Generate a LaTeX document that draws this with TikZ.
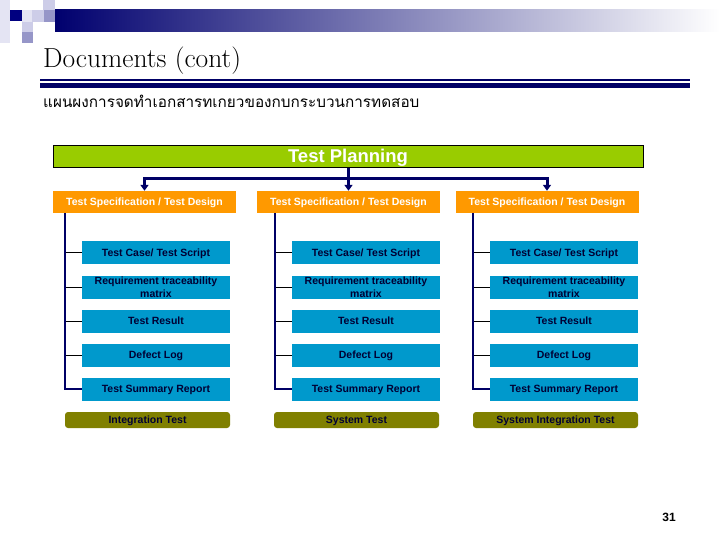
\documentclass[tikz,border=0pt]{standalone}
\usepackage{fontspec}
\newfontfamily\tahoma{Liberation Sans}
\newfontfamily\thaifont[Script=Thai]{Loma}
\usetikzlibrary{arrows.meta}
\definecolor{bannernavy}{RGB}{0,0,110}
\definecolor{bannermid}{RGB}{150,150,185}
\definecolor{sqdark}{RGB}{0,0,128}
\definecolor{sqmid}{RGB}{150,150,200}
\definecolor{sqlight}{RGB}{205,205,232}
\definecolor{sqpale}{RGB}{228,228,243}
\definecolor{rulenavy}{RGB}{0,0,102}
\definecolor{plangreen}{RGB}{153,204,0}
\definecolor{specorange}{RGB}{255,153,0}
\definecolor{docblue}{RGB}{0,153,204}
\definecolor{levelolive}{RGB}{128,128,0}
\definecolor{doctext}{RGB}{0,0,51}
\definecolor{linenavy}{RGB}{0,0,102}
\begin{document}
\begin{tikzpicture}[x=1pt,y=-1pt,
  plan/.style={draw=black, line width=0.8pt, fill=plangreen, text=white, minimum width=590pt, minimum height=22pt, inner sep=0pt, text height=13pt, text depth=0pt, font=\tahoma\bfseries\fontsize{18.5}{20}\selectfont},
  spec/.style={fill=specorange, text=white, minimum width=183pt, minimum height=22pt, inner sep=0pt, text height=7.5pt, text depth=0pt, font=\tahoma\bfseries\fontsize{10.5}{12}\selectfont},
  doc/.style={fill=docblue, text=doctext, minimum width=148pt, minimum height=23pt, inner sep=0pt, text height=7.5pt, text depth=0pt, align=center, font=\tahoma\bfseries\fontsize{10.5}{12.5}\selectfont},
  twoline/.style={text height={}, text depth={}},
  level/.style={fill=levelolive, text=doctext, rounded corners=3pt, minimum width=165pt, minimum height=16pt, inner sep=0pt, text height=7.5pt, text depth=0pt, font=\tahoma\bfseries\fontsize{10.5}{12}\selectfont},
  trunk/.style={draw=linenavy, line width=3pt, -{Triangle[width=8pt,length=6pt]}},
  rail/.style={draw=linenavy, line width=2.5pt},
  branch/.style={draw=black, line width=0.8pt}]
\useasboundingbox (0,0) rectangle (720,540);
% corner squares and banner
\fill[sqpale] (0,0) rectangle (10,43);
\fill[sqlight] (43,0) rectangle (55,10);
\fill[sqdark] (10,10) rectangle (22,21);
\fill[sqpale] (22,10) rectangle (32,22);
\fill[sqlight] (32,10) rectangle (44,22);
\fill[sqmid] (44,10) rectangle (55,22);
\fill[sqlight] (22,22) rectangle (33,32);
\fill[sqmid] (22,32) rectangle (33,43);
\shade[left color=bannernavy, middle color=bannermid, right color=white] (55,10) rectangle (720,32);
% title
\node [anchor=base west, inner sep=0pt, font=\fontsize{27.5}{30}\selectfont] (title) at (43,68) {Documents (cont)};
\fill[rulenavy] (40,79) rectangle (690,81);
\fill[rulenavy] (40,83) rectangle (690,88);
\node [anchor=base west, inner sep=0pt, font=\thaifont\fontsize{15.3}{18}\selectfont] (subtitle) at (43,108) {แผนผงการจดทำเอกสารทเกยวของกบกระบวนการทดสอบ};
% test planning
\node [plan] (plan) at (348,156.5) {Test Planning};
\node [spec] (spec1) at (144.5,202) {Test Specification / Test Design};
\node [spec] (spec2) at (348.5,202) {Test Specification / Test Design};
\node [spec] (spec3) at (547,202) {Test Specification / Test Design};
\coordinate (hub) at (348.5,179);
\draw [trunk] (plan.south -| hub) -- (spec2.north);
\draw [trunk] (hub) -| (spec1.north);
\draw [trunk] (hub) -| (spec3.north);
% column 1
\node [doc] (case1) at (156,252.5) {Test Case/ Test Script};
\node [doc, twoline] (trace1) at (156,287) {Requirement traceability\\matrix};
\node [doc] (result1) at (156,321) {Test Result};
\node [doc] (defect1) at (156,355) {Defect Log};
\node [doc] (summary1) at (156,389) {Test Summary Report};
\node [level] (level1) at (147.5,420) {Integration Test};
% column 2
\node [doc] (case2) at (366,252.5) {Test Case/ Test Script};
\node [doc, twoline] (trace2) at (366,287) {Requirement traceability\\matrix};
\node [doc] (result2) at (366,321) {Test Result};
\node [doc] (defect2) at (366,355) {Defect Log};
\node [doc] (summary2) at (366,389) {Test Summary Report};
\node [level] (level2) at (356.5,420) {System Test};
% column 3
\node [doc] (case3) at (564,252.5) {Test Case/ Test Script};
\node [doc, twoline] (trace3) at (564,287) {Requirement traceability\\matrix};
\node [doc] (result3) at (564,321) {Test Result};
\node [doc] (defect3) at (564,355) {Defect Log};
\node [doc] (summary3) at (564,389) {Test Summary Report};
\node [level] (level3) at (555.5,420) {System Integration Test};
% rails
\coordinate (rail1) at (65,213);
\coordinate (rail2) at (275,213);
\coordinate (rail3) at (473,213);
\draw [branch] (rail1 |- case1.west) -- (case1.west);
\draw [branch] (rail1 |- trace1.west) -- (trace1.west);
\draw [branch] (rail1 |- result1.west) -- (result1.west);
\draw [branch] (rail1 |- defect1.west) -- (defect1.west);
\draw [rail] (rail1) |- (summary1.west);
\draw [branch] (rail2 |- case2.west) -- (case2.west);
\draw [branch] (rail2 |- trace2.west) -- (trace2.west);
\draw [branch] (rail2 |- result2.west) -- (result2.west);
\draw [branch] (rail2 |- defect2.west) -- (defect2.west);
\draw [rail] (rail2) |- (summary2.west);
\draw [branch] (rail3 |- case3.west) -- (case3.west);
\draw [branch] (rail3 |- trace3.west) -- (trace3.west);
\draw [branch] (rail3 |- result3.west) -- (result3.west);
\draw [branch] (rail3 |- defect3.west) -- (defect3.west);
\draw [rail] (rail3) |- (summary3.west);
% page number
\node [anchor=base, inner sep=0pt, font=\tahoma\bfseries\fontsize{12}{14}\selectfont] (page) at (669,521) {31};
\end{tikzpicture}
\end{document}
